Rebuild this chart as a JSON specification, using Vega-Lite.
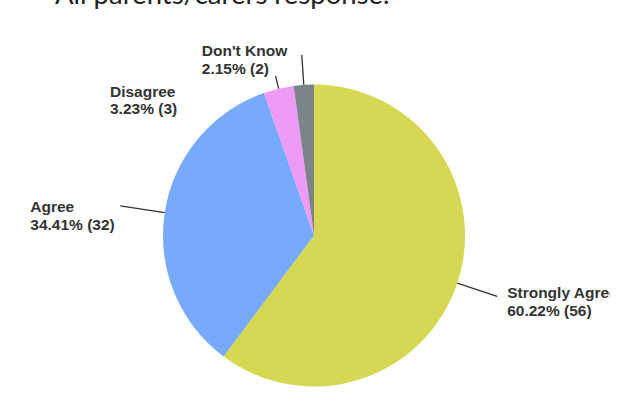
{
  "$schema": "https://vega.github.io/schema/vega-lite/v6.json",
  "width": 592,
  "height": 345,
  "autosize": {"type": "none"},
  "padding": {"left": 18, "top": 63, "right": 21, "bottom": 0},
  "background": "white",
  "view": {"stroke": null},
  "title": {
    "text": "All parents/carers response.",
    "anchor": "start",
    "frame": "group",
    "orient": "top",
    "dx": 37,
    "dy": 22,
    "offset": 35,
    "baseline": "alphabetic",
    "font": "Lato",
    "fontSize": 27.5,
    "fontWeight": "normal",
    "color": "#222222"
  },
  "data": {
    "values": [
      {"answer": "Strongly Agree", "percent": 60.22, "count": 56},
      {"answer": "Agree", "percent": 34.41, "count": 32},
      {"answer": "Disagree", "percent": 3.23, "count": 3},
      {"answer": "Don't Know", "percent": 2.15, "count": 2}
    ]
  },
  "transform": [
    {"window": [{"op": "row_number", "as": "order"}]},
    {"stack": "count", "groupby": [], "sort": [{"field": "order", "order": "ascending"}], "as": ["c0", "c1"]},
    {"calculate": "(datum.c0 + datum.c1) / 2", "as": "cmid"},
    {"calculate": "[datum.answer, format(datum.percent, '.2f') + '% (' + datum.count + ')']", "as": "label"}
  ],
  "layer": [
    {
      "mark": {"type": "arc", "radius": 151},
      "encoding": {
        "theta": {"field": "c0", "type": "quantitative", "stack": null, "scale": {"domain": [0, 93]}},
        "theta2": {"field": "c1"},
        "color": {
          "field": "answer",
          "type": "nominal",
          "scale": {
            "domain": ["Strongly Agree", "Agree", "Disagree", "Don't Know"],
            "range": ["#D6D853", "#78AAFC", "#EE9AF7", "#7C8389"]
          },
          "legend": null
        }
      }
    },
    {
      "transform": [{"filter": "datum.answer === 'Strongly Agree'"}],
      "mark": {"type": "arc", "radius": 193, "radius2": 151, "filled": false, "stroke": "#333333", "strokeWidth": 1.3},
      "encoding": {
        "theta": {"field": "cmid", "type": "quantitative", "stack": null, "scale": {"domain": [0, 93]}},
        "theta2": {"field": "cmid"}
      }
    },
    {
      "transform": [{"filter": "datum.answer === 'Agree'"}],
      "mark": {"type": "arc", "radius": 196, "radius2": 151, "filled": false, "stroke": "#333333", "strokeWidth": 1.3},
      "encoding": {
        "theta": {"field": "cmid", "type": "quantitative", "stack": null, "scale": {"domain": [0, 93]}},
        "theta2": {"field": "cmid"}
      }
    },
    {
      "transform": [{"filter": "datum.answer === 'Disagree'"}],
      "mark": {"type": "arc", "radius": 164, "radius2": 151, "filled": false, "stroke": "#333333", "strokeWidth": 1.3},
      "encoding": {
        "theta": {"field": "cmid", "type": "quantitative", "stack": null, "scale": {"domain": [0, 93]}},
        "theta2": {"field": "cmid"}
      }
    },
    {
      "transform": [{"filter": "datum.answer === \"Don't Know\""}],
      "mark": {"type": "arc", "radius": 181, "radius2": 151, "filled": false, "stroke": "#333333", "strokeWidth": 1.3},
      "encoding": {
        "theta": {"field": "cmid", "type": "quantitative", "stack": null, "scale": {"domain": [0, 93]}},
        "theta2": {"field": "cmid"}
      }
    },
    {
      "transform": [{"filter": "datum.answer === 'Strongly Agree'"}],
      "mark": {"type": "text", "radius": 193, "align": "left", "baseline": "alphabetic", "dx": 10, "dy": 2, "lineHeight": 17.2, "font": "Liberation Sans", "fontWeight": "bold", "fontSize": 15.5, "color": "#333333", "clip": true},
      "encoding": {
        "theta": {"field": "cmid", "type": "quantitative", "stack": null, "scale": {"domain": [0, 93]}},
        "text": {"field": "label"}
      }
    },
    {
      "transform": [{"filter": "datum.answer === 'Agree'"}],
      "mark": {"type": "text", "radius": 196, "align": "left", "baseline": "alphabetic", "dx": -90, "dy": 6.5, "lineHeight": 17.2, "font": "Liberation Sans", "fontWeight": "bold", "fontSize": 15.5, "color": "#333333", "clip": true},
      "encoding": {
        "theta": {"field": "cmid", "type": "quantitative", "stack": null, "scale": {"domain": [0, 93]}},
        "text": {"field": "label"}
      }
    },
    {
      "transform": [{"filter": "datum.answer === 'Disagree'"}],
      "mark": {"type": "text", "radius": 164, "align": "left", "baseline": "alphabetic", "dx": -165.6, "dy": 21, "lineHeight": 17.2, "font": "Liberation Sans", "fontWeight": "bold", "fontSize": 15.5, "color": "#333333"},
      "encoding": {
        "theta": {"field": "cmid", "type": "quantitative", "stack": null, "scale": {"domain": [0, 93]}},
        "text": {"field": "label"}
      }
    },
    {
      "transform": [{"filter": "datum.answer === \"Don't Know\""}],
      "mark": {"type": "text", "radius": 181, "align": "left", "baseline": "alphabetic", "dx": -100, "dy": 1.4, "lineHeight": 17.2, "font": "Liberation Sans", "fontWeight": "bold", "fontSize": 15.5, "color": "#333333"},
      "encoding": {
        "theta": {"field": "cmid", "type": "quantitative", "stack": null, "scale": {"domain": [0, 93]}},
        "text": {"field": "label"}
      }
    }
  ]
}
